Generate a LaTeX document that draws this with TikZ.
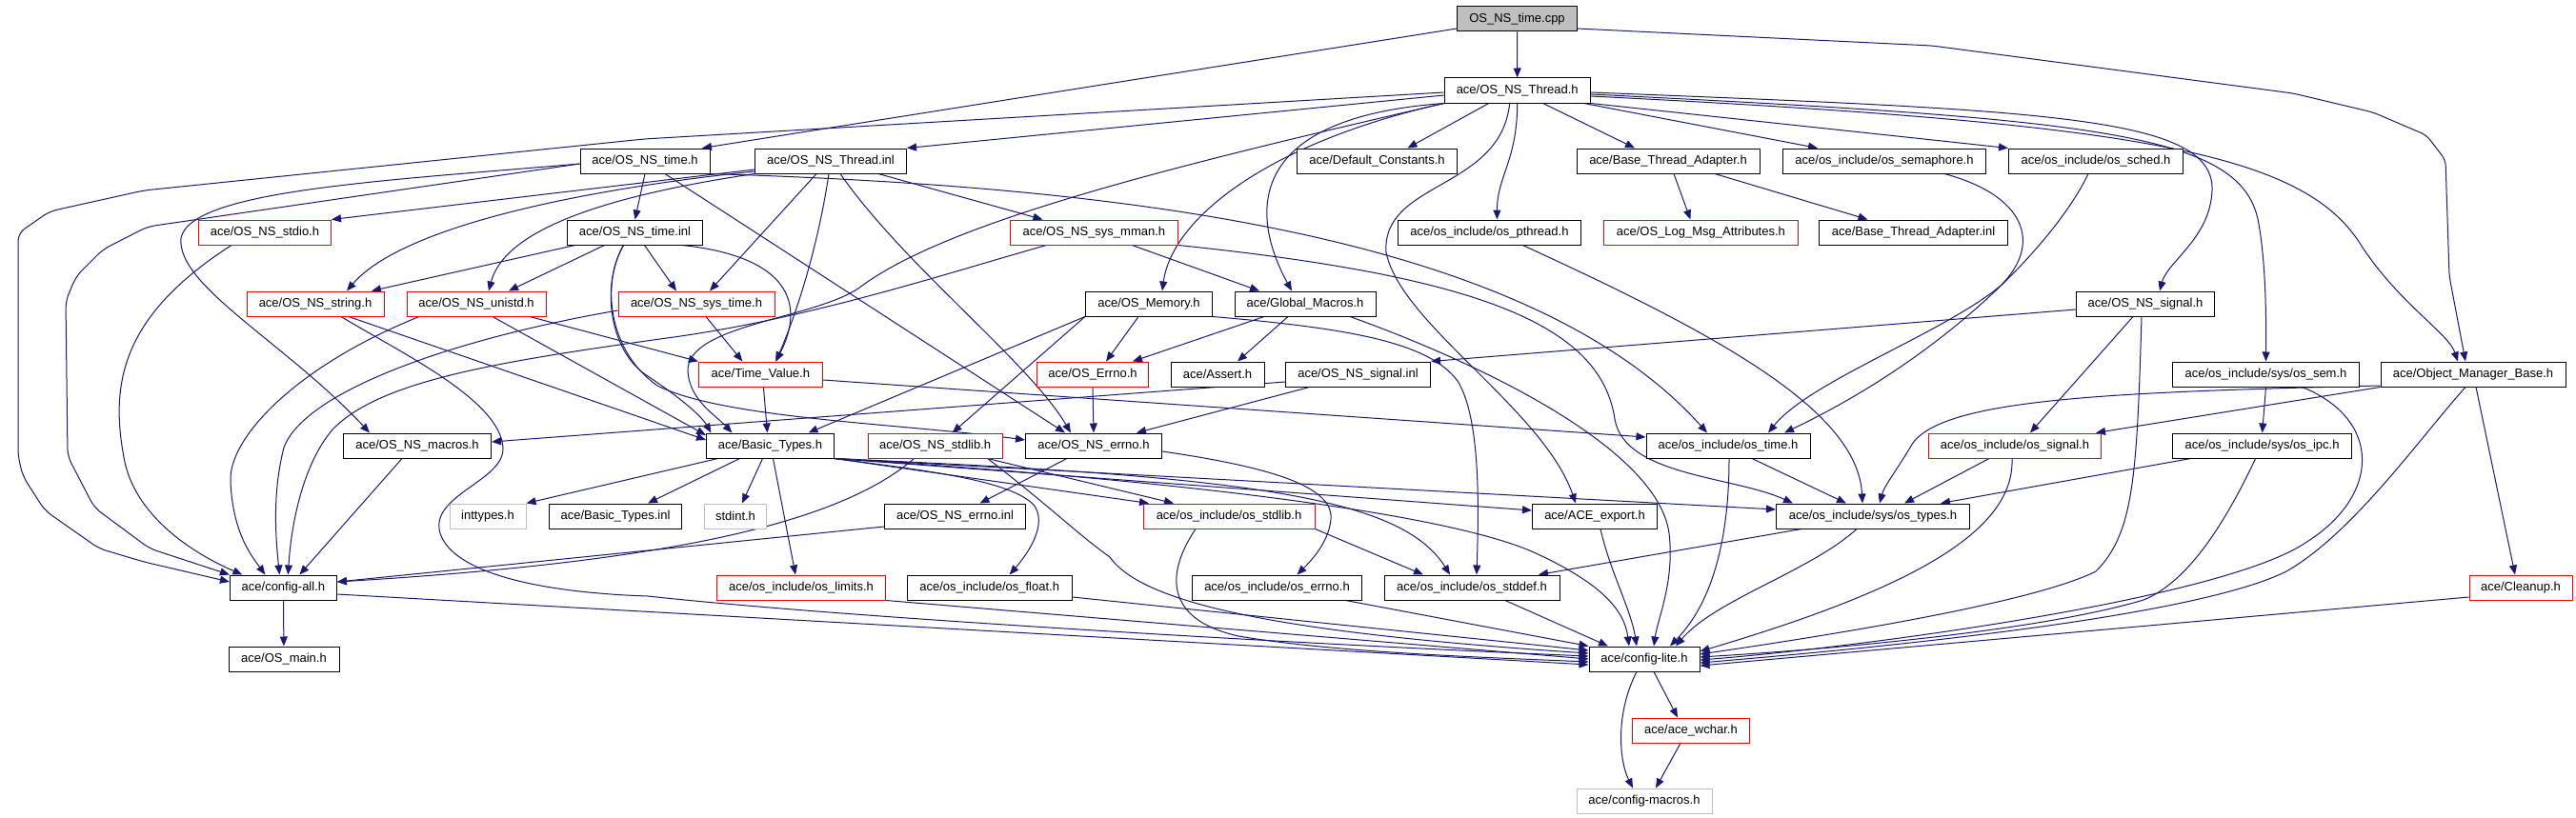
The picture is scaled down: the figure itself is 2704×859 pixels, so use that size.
\documentclass[tikz,border=0pt]{standalone}
\usepackage{fontspec}
\setmainfont{Liberation Sans}
\usetikzlibrary{arrows.meta}
\pgfdeclarelayer{edgelayer}
\pgfsetlayers{edgelayer,main}
\definecolor{edgecol}{HTML}{191970}
\definecolor{boxgrey}{HTML}{BFBFBF}
\tikzset{
  box/.style={draw=black, fill=white, line width=1pt, minimum height=26pt, inner xsep=0pt, inner ysep=0pt, font=\fontsize{13}{15}\selectfont, text=black},
  redbox/.style={box, draw=red},
  greybox/.style={box, draw=boxgrey},
  e/.style={draw=edgecol, line width=1pt, -{Triangle[length=10pt,width=8pt]}},
}
\begin{document}
\begin{tikzpicture}[x=1pt,y=-1pt]
\useasboundingbox (0,0) rectangle (2704,859);
% ---------------- nodes ----------------
\node[box,fill=boxgrey,minimum width=126pt] (cpp) at (1592.5,20) {OS\_NS\_time.cpp};
\node[box,minimum width=153pt] (ThreadH) at (1592.7,95) {ace/OS\_NS\_Thread.h};
\node[box,minimum width=136pt] (timeH) at (677,169) {ace/OS\_NS\_time.h};
\node[box,minimum width=159pt] (ThreadInl) at (872,169) {ace/OS\_NS\_Thread.inl};
\node[box,minimum width=168pt] (DefConst) at (1445.5,169) {ace/Default\_Constants.h};
\node[box,minimum width=192pt] (BTAh) at (1751,169) {ace/Base\_Thread\_Adapter.h};
\node[box,minimum width=213pt] (semaphore) at (1978,169) {ace/os\_include/os\_semaphore.h};
\node[box,minimum width=183pt] (sched) at (2200,169) {ace/os\_include/os\_sched.h};
\node[redbox,minimum width=139pt] (NSstdio) at (278,244) {ace/OS\_NS\_stdio.h};
\node[box,minimum width=142pt] (timeInl) at (666.5,244) {ace/OS\_NS\_time.inl};
\node[redbox,minimum width=176pt] (sysmman) at (1148.4,244) {ace/OS\_NS\_sys\_mman.h};
\node[box,minimum width=192pt] (pthread) at (1563.4,244) {ace/os\_include/os\_pthread.h};
\node[redbox,minimum width=204pt] (LogMsg) at (1785.4,244) {ace/OS\_Log\_Msg\_Attributes.h};
\node[box,minimum width=198pt] (BTAinl) at (2008.5,244) {ace/Base\_Thread\_Adapter.inl};
\node[redbox,minimum width=144pt] (NSstring) at (331,319) {ace/OS\_NS\_string.h};
\node[redbox,minimum width=146pt] (NSunistd) at (500,319) {ace/OS\_NS\_unistd.h};
\node[redbox,minimum width=164pt] (NSsystime) at (731,319) {ace/OS\_NS\_sys\_time.h};
\node[box,minimum width=133pt] (OSMemory) at (1206,319) {ace/OS\_Memory.h};
\node[box,minimum width=148pt] (GlobalMacros) at (1370,319) {ace/Global\_Macros.h};
\node[box,minimum width=145pt] (NSsignalH) at (2252,319) {ace/OS\_NS\_signal.h};
\node[redbox,minimum width=130pt] (TimeValue) at (798.4,393) {ace/Time\_Value.h};
\node[redbox,minimum width=117pt] (OSErrno) at (1147,393) {ace/OS\_Errno.h};
\node[box,minimum width=98pt] (Assert) at (1278,393) {ace/Assert.h};
\node[box,minimum width=152pt] (NSsignalInl) at (1425.5,393) {ace/OS\_NS\_signal.inl};
\node[box,minimum width=196pt] (ossem) at (2378.5,393) {ace/os\_include/sys/os\_sem.h};
\node[box,minimum width=194pt] (OMB) at (2596,393) {ace/Object\_Manager\_Base.h};
\node[box,minimum width=155pt] (NSmacros) at (438,468) {ace/OS\_NS\_macros.h};
\node[box,minimum width=134pt] (BasicTypes) at (808.5,468) {ace/Basic\_Types.h};
\node[redbox,minimum width=141pt] (NSstdlib) at (981.6,468) {ace/OS\_NS\_stdlib.h};
\node[box,minimum width=143pt] (NSerrno) at (1148,468) {ace/OS\_NS\_errno.h};
\node[box,minimum width=172pt] (ostime) at (1814,468) {ace/os\_include/os\_time.h};
\node[redbox,minimum width=181pt] (ossignal) at (2115,468) {ace/os\_include/os\_signal.h};
\node[box,minimum width=188pt] (osipc) at (2374.6,468) {ace/os\_include/sys/os\_ipc.h};
\node[greybox,minimum width=80pt] (inttypes) at (512,542) {inttypes.h};
\node[box,minimum width=139pt] (BTinl) at (646,542) {ace/Basic\_Types.inl};
\node[greybox,minimum width=65pt] (stdint) at (772,542) {stdint.h};
\node[box,minimum width=148pt] (errnoInl) at (1002.5,542) {ace/OS\_NS\_errno.inl};
\node[redbox,minimum width=180pt] (osstdlib) at (1290,542) {ace/os\_include/os\_stdlib.h};
\node[box,minimum width=131pt] (ACEexport) at (1674,542) {ace/ACE\_export.h};
\node[box,minimum width=203pt] (ostypes) at (1966,542) {ace/os\_include/sys/os\_types.h};
\node[box,minimum width=112pt] (configall) at (297.4,617) {ace/config-all.h};
\node[redbox,minimum width=177pt] (oslimits) at (841,617) {ace/os\_include/os\_limits.h};
\node[box,minimum width=173pt] (osfloat) at (1038.7,617) {ace/os\_include/os\_float.h};
\node[box,minimum width=178pt] (oserrno) at (1340.5,617) {ace/os\_include/os\_errno.h};
\node[box,minimum width=184pt] (osstddef) at (1545,617) {ace/os\_include/os\_stddef.h};
\node[redbox,minimum width=108pt] (Cleanup) at (2646,617) {ace/Cleanup.h};
\node[box,minimum width=116pt] (OSmain) at (298,692) {ace/OS\_main.h};
\node[box,minimum width=116pt] (configlite) at (1726,692) {ace/config-lite.h};
\node[redbox,minimum width=123pt] (wchar) at (1775,767) {ace/ace\_wchar.h};
\node[greybox,minimum width=142pt] (configmacros) at (1726,841) {ace/config-macros.h};
% ---------------- edges ----------------
\begin{pgfonlayer}{edgelayer}
% cpp
\draw[e] (cpp) -- (ThreadH);
\draw[e] ([yshift=-10pt]cpp.west) -- ([xshift=60pt]timeH.north);
\draw[e,rounded corners=6pt] ([yshift=-10pt]cpp.east) -- (2028,48) -- (2407,98) -- (2491,118) -- (2547,142) -- (2567,168) -- (2571,290) -- ([xshift=-8pt]OMB.north);
% Thread.h
\draw[e,rounded corners=8pt] ([yshift=-2pt]ThreadH.west) -- (676,146) -- (151,200) -- (52,222) -- (19,245) -- (19,479) -- (24,500) -- (47,536) -- (104,576) -- (151,590) -- ([yshift=6pt]configall.west);
\draw[e] ([yshift=-5pt]ThreadH.west) -- (ThreadInl.north east);
\draw[e] ([xshift=-30pt]ThreadH.south) -- ([xshift=32pt]DefConst.north);
\draw[e] (ThreadH.south) .. controls +(0,60) and +(0,-45) .. ([xshift=8pt]pthread.north);
\draw[e] ([xshift=27pt]ThreadH.south) -- ([xshift=-35pt]BTAh.north);
\draw[e] ([xshift=70pt]ThreadH.south) -- ([xshift=-70pt]semaphore.north);
\draw[e] (ThreadH.south east) -- (sched.north west);
\draw[e] (ThreadH.south west) .. controls (1330,150) and (1230,230) .. ([xshift=14pt]OSMemory.north);
\draw[e] (ThreadH.south west) .. controls (1290,125) and (1320,240) .. ([xshift=-14pt]GlobalMacros.north);
\draw[e] (ThreadH.south west) .. controls (1250,170) and (1000,230) .. (905,300) .. controls (860,335) and (720,340) .. (722,390) .. controls (724,420) and (750,435) .. ([xshift=-40pt]BasicTypes.north);
\draw[e] ([xshift=-8pt]ThreadH.south) .. controls (1575,200) and (1450,190) .. (1455,265) .. controls (1470,340) and (1620,430) .. ([xshift=-20pt]ACEexport.north);
\draw[e] ([yshift=-2pt]ThreadH.east) .. controls (2150,116) and (2325,122) .. (2322,200) .. controls (2320,250) and (2275,275) .. ([xshift=15pt]NSsignalH.north);
\draw[e] ([yshift=-4pt]ThreadH.east) .. controls (2200,125) and (2350,140) .. (2370,230) .. controls (2378,270) and (2379,330) .. (ossem.north);
\draw[e] ([yshift=-6pt]ThreadH.east) .. controls (2250,130) and (2420,160) .. (2480,260) .. controls (2520,320) and (2570,350) .. ([xshift=-16pt]OMB.north);
% Base_Thread_Adapter
\draw[e] ([xshift=6pt]BTAh.south) -- ([xshift=-11pt]LogMsg.north);
\draw[e] ([xshift=49pt]BTAh.south) -- ([xshift=-48pt]BTAinl.north);
% OS_NS_time.h
\draw[e,rounded corners=8pt] ([yshift=-3pt]timeH.west) -- (155,238) -- (108,262) -- (80,290) -- (69,316) -- (71,479) -- (99,533) -- (157,576) -- (configall.north west);
\draw[e] (timeH.south) -- (timeInl.north);
\draw[e] ([yshift=-3pt]timeH.west) .. controls (400,190) and (200,200) .. (190,250) .. controls (185,300) and (300,360) .. ([xshift=-50pt]NSmacros.north);
\draw[e] ([xshift=21pt]timeH.south) -- ([xshift=-30pt]NSerrno.north);
\draw[e] (timeH.south east) .. controls (1150,195) and (1600,240) .. ([xshift=-22pt]ostime.north);
% OS_NS_Thread.inl
\draw[e] ([yshift=-9pt]ThreadInl.west) -- (NSstdio.north east);
\draw[e] ([yshift=-11pt]ThreadInl.west) .. controls (600,200) and (420,240) .. ([xshift=33pt]NSstring.north);
\draw[e] (ThreadInl.south west) .. controls (640,205) and (530,240) .. ([xshift=13pt]NSunistd.north);
\draw[e] ([xshift=-15pt]ThreadInl.south) -- ([xshift=14pt]NSsystime.north);
\draw[e] ([xshift=-2pt]ThreadInl.south) .. controls (860,250) and (840,320) .. ([xshift=16pt]TimeValue.north);
\draw[e] ([xshift=10pt]ThreadInl.south) .. controls (950,280) and (1080,380) .. ([xshift=-24pt]NSerrno.north);
\draw[e] ([xshift=50pt]ThreadInl.south) -- ([xshift=-54pt]sysmman.north);
% OS_NS_time.inl
\draw[e] ([xshift=-63pt]timeInl.south) -- ([xshift=59pt]NSstring.north);
\draw[e] ([xshift=-32pt]timeInl.south) -- ([xshift=34pt]NSunistd.north);
\draw[e] ([xshift=10pt]timeInl.south) -- ([xshift=-21pt]NSsystime.north);
\draw[e] ([xshift=50pt]timeInl.south) .. controls (830,270) and (845,320) .. ([xshift=16pt]TimeValue.north);
\draw[e] ([xshift=-12pt]timeInl.south) .. controls (630,300) and (640,370) .. (680,395) .. controls (710,415) and (735,435) .. ([xshift=-62pt]BasicTypes.north);
\draw[e] ([xshift=-12pt]timeInl.south) .. controls (630,300) and (640,370) .. (690,405) .. controls (760,440) and (950,445) .. ([yshift=6pt]NSerrno.west);
% OS_NS_sys_mman.h
\draw[e] ([xshift=40pt]sysmman.south) -- ([xshift=-48pt]GlobalMacros.north);
\draw[e] (sysmman.south east) .. controls (1550,290) and (1680,340) .. (1695,440) .. controls (1705,500) and (1820,500) .. ([xshift=-84pt]ostypes.north);
\draw[e] ([xshift=-50pt]sysmman.south) .. controls (1000,285) and (850,335) .. (700,355) .. controls (520,380) and (400,400) .. (350,450) .. controls (315,490) and (305,560) .. ([xshift=5pt]configall.north);
% into config-all.h
\draw[e] ([xshift=-35pt]NSstdio.south) .. controls (130,330) and (115,400) .. (130,480) .. controls (140,540) and (200,580) .. ([xshift=-43pt]configall.north);
\draw[e] ([xshift=-60pt]NSunistd.south) .. controls (310,385) and (240,460) .. (242,505) .. controls (244,560) and (265,585) .. ([xshift=-19pt]configall.north);
\draw[e] ([yshift=-7pt]NSsystime.west) .. controls (480,355) and (320,410) .. (298,470) .. controls (285,520) and (290,570) .. ([xshift=-4pt]configall.north);
\draw[e] ([xshift=-16pt]NSmacros.south) -- ([xshift=17pt]configall.north);
\draw[e] ([yshift=-8pt]NSsignalInl.west) -- ([yshift=4pt]NSmacros.east);
% string / unistd / sys_time
\draw[e] ([xshift=35pt]NSstring.south) -- ([yshift=6pt]BasicTypes.west);
\draw[e] ([xshift=17pt]NSunistd.south) -- ([yshift=11pt]BasicTypes.west);
\draw[e] ([xshift=56pt]NSunistd.south) -- (TimeValue.north west);
\draw[e] ([xshift=27pt]NSstring.south) .. controls (420,370) and (525,420) .. (528,470) .. controls (530,505) and (450,520) .. (462,560) .. controls (475,600) and (560,622) .. (680,626) .. controls (900,650) and (1400,678) .. ([yshift=3pt]configlite.west);
\draw[e] ([xshift=10pt]NSsystime.south) -- ([xshift=-19pt]TimeValue.north);
% Time_Value
\draw[e] ([xshift=3pt]TimeValue.south) -- ([xshift=-3pt]BasicTypes.north);
\draw[e] ([yshift=-6pt]TimeValue.east) -- ([yshift=9pt]ostime.west);
% OS_Memory / Global_Macros
\draw[e] ([xshift=-11pt]OSMemory.south) -- ([xshift=14pt]OSErrno.north);
\draw[e] (OSMemory.south west) -- ([xshift=18pt]NSstdlib.north);
\draw[e] (OSMemory.south west) -- ([xshift=40pt]BasicTypes.north);
\draw[e] (OSMemory.south east) .. controls (1420,345) and (1500,360) .. (1530,400) .. controls (1555,440) and (1552,540) .. ([xshift=5pt]osstddef.north);
\draw[e] ([xshift=-43pt]GlobalMacros.south) -- ([xshift=42pt]OSErrno.north);
\draw[e] ([xshift=-18pt]GlobalMacros.south) -- ([xshift=21pt]Assert.north);
\draw[e] ([xshift=47pt]GlobalMacros.south) .. controls (1550,380) and (1740,470) .. (1752,560) .. controls (1758,610) and (1740,650) .. ([xshift=10pt]configlite.north);
% errno
\draw[e] (OSErrno.south) -- (NSerrno.north);
\draw[e] ([xshift=-51pt]NSsignalInl.south) -- ([xshift=45pt]NSerrno.north);
\draw[e] ([xshift=-28pt]NSerrno.south) -- ([xshift=26pt]errnoInl.north);
\draw[e] ([yshift=-6pt]NSerrno.east) .. controls (1330,490) and (1400,510) .. (1397,545) .. controls (1395,570) and (1375,590) .. ([xshift=21pt]oserrno.north);
\draw[e] ([yshift=-11pt]errnoInl.west) -- ([yshift=6pt]configall.east);
% OS_NS_stdlib.h
\draw[e] ([xshift=55pt]NSstdlib.south) -- ([xshift=-58pt]osstdlib.north);
\draw[e] ([xshift=-22pt]NSstdlib.south) .. controls (880,550) and (700,590) .. ([yshift=6pt]configall.east);
\draw[e] ([xshift=55pt]NSstdlib.south) .. controls (1100,530) and (1130,560) .. (1165,585) .. controls (1200,635) and (1350,665) .. ([yshift=6pt]configlite.west);
% Basic_Types.h
\draw[e] ([xshift=-55pt]BasicTypes.south) -- (inttypes.north east);
\draw[e] ([xshift=-32pt]BasicTypes.south) -- ([xshift=34pt]BTinl.north);
\draw[e] ([xshift=-8pt]BasicTypes.south) -- ([xshift=7pt]stdint.north);
\draw[e] ([xshift=3pt]BasicTypes.south) -- ([xshift=-6pt]oslimits.north);
\draw[e] (BasicTypes.south east) .. controls (980,495) and (1060,505) .. (1085,530) .. controls (1100,550) and (1080,580) .. ([xshift=21pt]osfloat.north);
\draw[e] (BasicTypes.south east) -- ([xshift=-84pt]osstdlib.north);
\draw[e] (BasicTypes.south east) -- ([yshift=6pt]ACEexport.west);
\draw[e] (BasicTypes.south east) -- ([yshift=7pt]ostypes.west);
\draw[e] (BasicTypes.south east) .. controls (1300,500) and (1470,520) .. ([xshift=-23pt]osstddef.north);
\draw[e] (BasicTypes.south east) .. controls (1250,505) and (1520,540) .. (1610,580) .. controls (1680,612) and (1705,640) .. ([xshift=-16pt]configlite.north);
% os_stdlib.h
\draw[e] (osstdlib.south east) -- ([xshift=-51pt]osstddef.north);
\draw[e] ([xshift=-35pt]osstdlib.south) .. controls (1225,600) and (1220,650) .. (1300,668) .. controls (1400,685) and (1550,690) .. ([yshift=-3pt]configlite.west);
% into config-lite.h
\draw[e] ([xshift=6pt]ACEexport.south) .. controls (1690,600) and (1712,640) .. ([xshift=-8pt]configlite.north);
\draw[e] ([xshift=1pt]ostime.south) .. controls (1815,560) and (1800,630) .. ([xshift=27pt]configlite.north);
\draw[e] ([xshift=25pt]ostime.south) -- ([xshift=-28pt]ostypes.north);
\draw[e] ([xshift=-17pt]ostypes.south) .. controls (1900,600) and (1800,630) .. ([xshift=33pt]configlite.north);
\draw[e] ([xshift=-75pt]ostypes.south) -- ([xshift=70pt]osstddef.north);
\draw[e] ([xshift=35pt]osstddef.south) -- ([xshift=-38pt]configlite.north);
\draw[e] ([xshift=72pt]oserrno.south) -- (configlite.north west);
\draw[e] (oslimits.south east) -- (configlite.west);
\draw[e] ([yshift=-10pt]osfloat.east) -- ([yshift=9pt]configlite.west);
\draw[e] ([yshift=-7pt]configall.east) -- ([yshift=-6pt]configlite.west);
\draw[e] (configall) -- (OSmain);
% pthread, semaphore, sched
\draw[e] ([xshift=35pt]pthread.south) .. controls (1800,350) and (1950,430) .. ([xshift=-11pt]ostypes.north);
\draw[e] ([xshift=63pt]semaphore.south) .. controls (2125,205) and (2145,255) .. (2100,300) .. controls (2040,350) and (1900,400) .. ([xshift=42pt]ostime.north);
\draw[e] ([xshift=-8pt]sched.south) .. controls (2160,250) and (2050,370) .. ([xshift=59pt]ostime.north);
% OS_NS_signal.h
\draw[e] ([yshift=-6pt]NSsignalH.west) -- (NSsignalInl.north east);
\draw[e] ([xshift=-13pt]NSsignalH.south) -- ([xshift=16pt]ossignal.north);
\draw[e] ([xshift=-4pt]NSsignalH.south) .. controls (2243,500) and (2240,560) .. (2200,600) .. controls (2130,635) and (1900,670) .. ([yshift=5pt]configlite.east);
% os_sem / os_ipc
\draw[e] (ossem.south) -- (osipc.north);
\draw[e] ([xshift=38pt]ossem.south) .. controls (2500,440) and (2500,520) .. (2420,570) .. controls (2330,630) and (1950,680) .. ([yshift=-1pt]configlite.east);
\draw[e] ([xshift=-75pt]osipc.south) -- ([xshift=71pt]ostypes.north);
\draw[e] ([xshift=-7pt]osipc.south) .. controls (2340,540) and (2300,610) .. (2250,630) .. controls (2150,660) and (1950,680) .. ([yshift=2pt]configlite.east);
% Object_Manager_Base.h
\draw[e] (OMB.south west) -- ([xshift=85pt]ossignal.north);
\draw[e] ([yshift=-12pt]OMB.west) .. controls (2200,412) and (2030,420) .. (2005,470) .. controls (1990,495) and (1978,510) .. ([xshift=7pt]ostypes.north);
\draw[e] ([xshift=3pt]OMB.south) -- ([xshift=-6pt]Cleanup.north);
\draw[e] ([xshift=-8pt]OMB.south) .. controls (2540,460) and (2470,560) .. (2400,600) .. controls (2300,650) and (1950,682) .. ([yshift=-4pt]configlite.east);
\draw[e] ([yshift=-10pt]Cleanup.west) -- ([yshift=-7pt]configlite.east);
% os_signal.h
\draw[e] ([xshift=-27pt]ossignal.south) -- ([xshift=33pt]ostypes.north);
\draw[e] ([xshift=-3pt]ossignal.south) .. controls (2115,560) and (2000,620) .. ([yshift=8pt]configlite.east);
% config-lite.h
\draw[e] ([xshift=10pt]configlite.south) -- ([xshift=-14pt]wchar.north);
\draw[e] ([xshift=-8pt]configlite.south) .. controls (1695,750) and (1700,800) .. ([xshift=-12pt]configmacros.north);
\draw[e] ([xshift=-11pt]wchar.south) -- ([xshift=12pt]configmacros.north);
\end{pgfonlayer}
\end{tikzpicture}
\end{document}
